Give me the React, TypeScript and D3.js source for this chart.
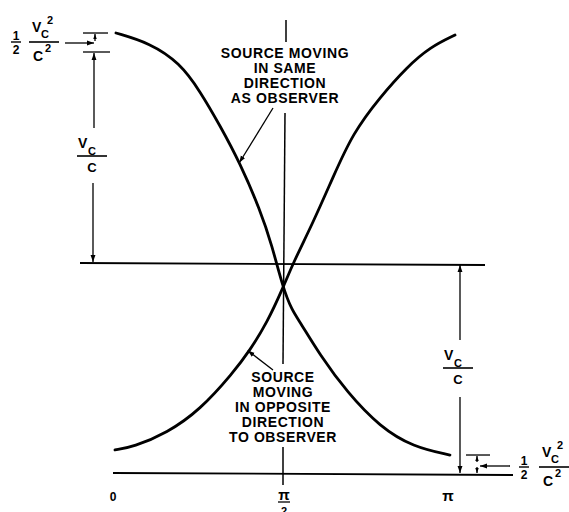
import React from 'react';
import * as d3 from 'd3';

// theta as a fraction of pi, received frequency ratio
const sameTheta = [0, 0.101, 0.19, 0.25, 0.31, 0.369, 0.429, 0.464, 0.497, 0.524, 0.548, 0.607, 0.688, 0.786, 0.884, 0.994];
const sameRatio = [1.218, 1.2085, 1.1896, 1.163, 1.13, 1.0948, 1.0502, 1.017, 0.9763, 0.955, 0.944, 0.9128, 0.8773, 0.8445, 0.8256, 0.818];

const oppTheta = [-0.003, 0.051, 0.152, 0.25, 0.348, 0.399, 0.449, 0.497, 0.527, 0.586, 0.646, 0.705, 0.786, 0.866, 0.935, 1.009];
const oppRatio = [0.8228, 0.8256, 0.8389, 0.8607, 0.8957, 0.9175, 0.9431, 0.9763, 1.0, 1.0379, 1.0815, 1.1232, 1.1573, 1.1858, 1.2047, 1.2161];

// reference levels: 1 - v/c, 1 - v/c + v²/2c², 1, 1 + v/c, 1 + v/c + v²/2c²
const baseLevel = 0.8;
const baseHalfLevel = 0.818;
const midLevel = 1.0;
const topVLevel = 1.2;
const topLevel = 1.218;

const xTickVals = [0, 1];
const xTickText = ['0', 'π'];

const sameLabel = ['SOURCE MOVING', 'IN SAME', 'DIRECTION', 'AS OBSERVER'];
const oppLabel = ['SOURCE', 'MOVING', 'IN OPPOSITE', 'DIRECTION', 'TO OBSERVER'];

const W = 569;
const H = 512;
const FONT = '"Liberation Sans", Arial, sans-serif';

// vc / c  (optionally squared) drawn as a stacked fraction
const VcFrac = ({ cx, barY, sq }: { cx: number; barY: number; sq?: boolean }) => (
  <g fontFamily={FONT} fontWeight="bold" fill="#000">
    <line x1={cx - 15} x2={cx + 15} y1={barY} y2={barY} stroke="#000" strokeWidth={1.6} />
    {sq ? (
      <>
        <text x={cx - 12} y={barY - 10} fontSize={14}>V</text>
        <text x={cx - 3} y={barY - 4} fontSize={11}>C</text>
        <text x={cx + 3} y={barY - 18} fontSize={11}>2</text>
        <text x={cx - 11} y={barY + 19} fontSize={14}>C</text>
        <text x={cx + 1} y={barY + 10} fontSize={11}>2</text>
      </>
    ) : (
      <>
        <text x={cx - 14} y={barY - 8} fontSize={14}>V</text>
        <text x={cx - 4} y={barY - 1} fontSize={11}>C</text>
        <text x={cx} y={barY + 16} fontSize={13} textAnchor="middle">C</text>
      </>
    )}
  </g>
);

const Half = ({ cx, barY }: { cx: number; barY: number }) => (
  <g fontFamily={FONT} fontWeight="bold" fontSize={12} textAnchor="middle">
    <text x={cx} y={barY - 2}>1</text>
    <line x1={cx - 5} x2={cx + 5} y1={barY} y2={barY} stroke="#000" strokeWidth={1.4} />
    <text x={cx} y={barY + 12}>2</text>
  </g>
);

const App = () => {
  const x = d3.scaleLinear().domain([0, 1]).range([116, 452]);
  const y = d3.scaleLinear().domain([baseLevel, midLevel]).range([474, 263]);

  const line = d3
    .line<[number, number]>()
    .x((d) => x(d[0]))
    .y((d) => y(d[1]))
    .curve(d3.curveBasis);

  const samePath = line(sameTheta.map((t, i) => [t, sameRatio[i]]));
  const oppPath = line(oppTheta.map((t, i) => [t, oppRatio[i]]));

  const xMid = x(0.5);
  const leftDim = x(0) - 21;
  const rightDim = x(1) + 8;
  const smallDim = x(1) + 25;

  return (
    <svg
      width={W}
      height={H}
      style={{ position: 'absolute', left: 0, top: 0, background: '#fff' }}
    >
      <defs>
        <marker
          id="arr"
          viewBox="0 0 10 10"
          refX={10}
          refY={5}
          markerWidth={7}
          markerHeight={7}
          markerUnits="userSpaceOnUse"
          orient="auto-start-reverse"
        >
          <path d="M0,1.5 L10,5 L0,8.5 z" fill="#000" />
        </marker>
        <marker
          id="arrS"
          viewBox="0 0 10 10"
          refX={10}
          refY={5}
          markerWidth={5}
          markerHeight={5}
          markerUnits="userSpaceOnUse"
          orient="auto-start-reverse"
        >
          <path d="M0,1.5 L10,5 L0,8.5 z" fill="#000" />
        </marker>
      </defs>

      {/* horizontal reference lines */}
      <line x1={x(0) - 36} x2={x(1) + 33} y1={y(midLevel)} y2={y(midLevel) + 2} stroke="#000" strokeWidth={1.8} />
      <line x1={x(0) - 3} x2={x(1) + 61} y1={y(baseLevel) - 1} y2={y(baseLevel) + 1} stroke="#000" strokeWidth={1.8} />

      {/* theta = pi/2 line, broken around the labels */}
      <g stroke="#000" strokeWidth={1.5}>
        <line x1={xMid + 2} x2={xMid + 2} y1={20} y2={42} />
        <line x1={xMid + 1} x2={xMid - 1} y1={113} y2={364} />
        <line x1={xMid - 1} x2={xMid - 1} y1={447} y2={485} />
      </g>

      {/* curves */}
      <path d={samePath ?? ''} fill="none" stroke="#000" strokeWidth={2.8} strokeLinecap="round" />
      <path d={oppPath ?? ''} fill="none" stroke="#000" strokeWidth={2.8} strokeLinecap="round" />

      {/* labels and leaders */}
      <g fontFamily={FONT} fontWeight="bold" fontSize={14} textAnchor="middle" letterSpacing={0.6}>
        {sameLabel.map((s, i) => (
          <text key={s} x={xMid + 1} y={58 + i * 15}>{s}</text>
        ))}
        {oppLabel.map((s, i) => (
          <text key={s} x={xMid - 1} y={382 + i * 15}>{s}</text>
        ))}
      </g>
      <line x1={273} y1={108} x2={x(0.367)} y2={y(1.095)} stroke="#000" strokeWidth={1.3} markerEnd="url(#arr)" />
      <line x1={273} y1={370} x2={x(0.392)} y2={y(0.917)} stroke="#000" strokeWidth={1.3} markerEnd="url(#arr)" />

      {/* left dimensions */}
      <g stroke="#000" strokeWidth={1.3}>
        <line x1={leftDim - 12} x2={leftDim + 13} y1={y(topLevel)} y2={y(topLevel)} />
        <line x1={leftDim - 12} x2={leftDim + 15} y1={y(topVLevel)} y2={y(topVLevel)} />
        <line x1={leftDim} x2={leftDim} y1={y(topLevel) + 8} y2={y(topLevel) + 1} markerEnd="url(#arrS)" />
        <line x1={leftDim - 1} x2={leftDim - 1} y1={128} y2={y(topVLevel) + 1} markerEnd="url(#arr)" />
        <line x1={leftDim - 2} x2={leftDim - 2} y1={183} y2={y(midLevel) - 1} markerEnd="url(#arr)" />
        <line x1={65} x2={leftDim - 1} y1={43} y2={43} markerEnd="url(#arr)" />
      </g>
      <Half cx={16} barY={42} />
      <VcFrac cx={44} barY={42} sq />
      <VcFrac cx={92} barY={156} />

      {/* right dimensions */}
      <g stroke="#000" strokeWidth={1.3}>
        <line x1={rightDim} x2={rightDim} y1={340} y2={y(midLevel) + 2} markerEnd="url(#arr)" />
        <line x1={rightDim} x2={rightDim} y1={397} y2={y(baseLevel) - 1} markerEnd="url(#arr)" />
        <line x1={smallDim - 11} x2={smallDim + 13} y1={y(baseHalfLevel)} y2={y(baseHalfLevel)} />
        <line x1={smallDim} x2={smallDim} y1={y(baseHalfLevel) + 7} y2={y(baseHalfLevel) + 1} markerEnd="url(#arrS)" />
        <line x1={smallDim} x2={smallDim} y1={y(baseLevel) - 7} y2={y(baseLevel) - 1} markerEnd="url(#arrS)" />
        <line x1={510} x2={smallDim + 3} y1={466} y2={466} markerEnd="url(#arr)" />
      </g>
      <VcFrac cx={458} barY={368} />
      <Half cx={524} barY={467} />
      <VcFrac cx={554} barY={467} sq />

      {/* theta axis labels */}
      <g fontFamily={FONT} fontWeight="bold" textAnchor="middle">
        {xTickVals.map((v, i) => (
          <text key={v} x={x(v) - 3 - i * 1} y={501} fontSize={i === 1 ? 15 : 12}>{xTickText[i]}</text>
        ))}
        <text x={xMid} y={500} fontSize={15}>π</text>
        <line x1={xMid - 6} x2={xMid + 6} y1={502} y2={502} stroke="#000" strokeWidth={1.3} />
        <text x={xMid} y={515} fontSize={11}>2</text>
      </g>
    </svg>
  );
};

export default App;
